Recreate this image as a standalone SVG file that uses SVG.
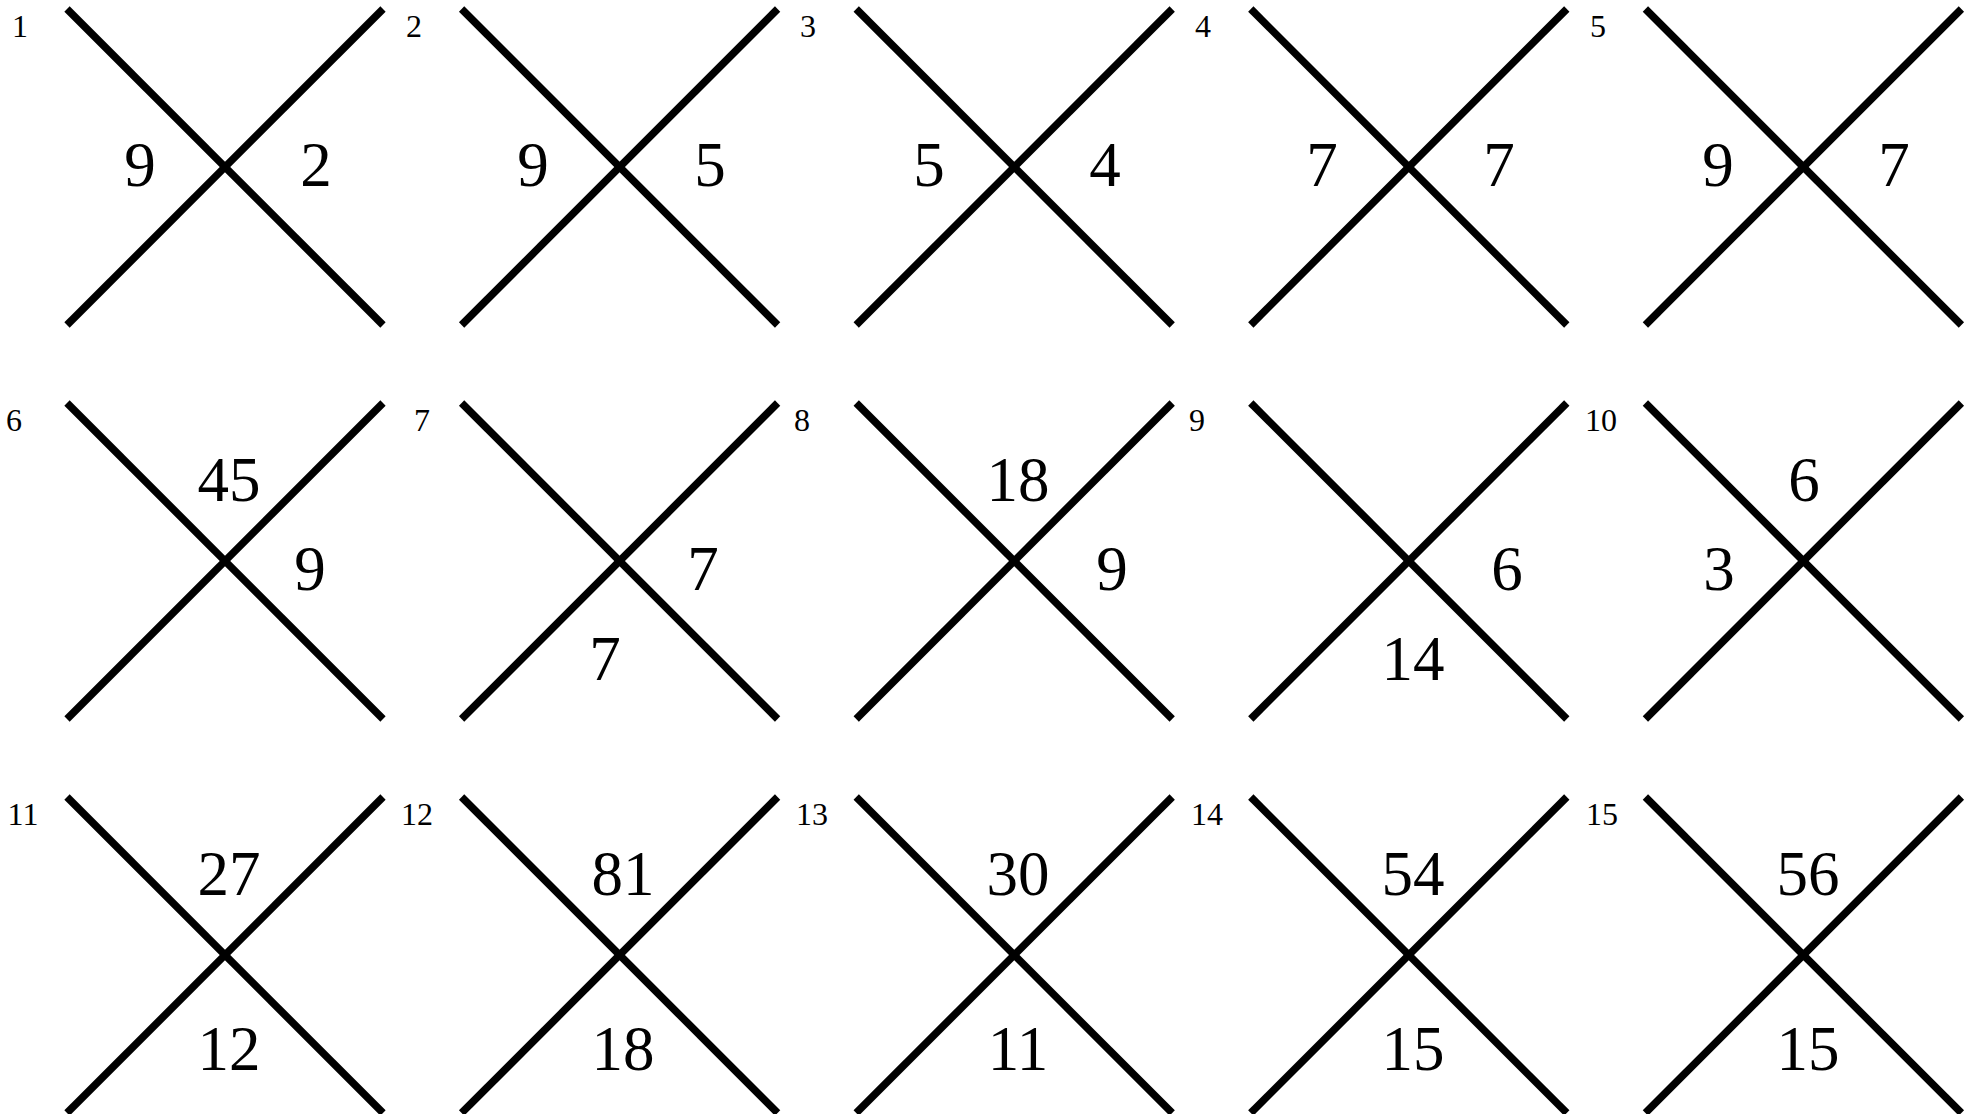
<svg xmlns="http://www.w3.org/2000/svg" width="1973" height="1114" viewBox="0 0 1973 1114">
<style>
.x{stroke:#000;stroke-width:7.5;stroke-linecap:butt;fill:none}
.n{font-family:"Liberation Serif","Times New Roman",serif;font-size:63px;fill:#000;text-anchor:middle}
.l{font-family:"Liberation Serif","Times New Roman",serif;font-size:32px;fill:#000;text-anchor:middle}
</style>
<rect width="1973" height="1114" fill="#fff"/>
<defs>
<g id="xshape">
<line class="x" x1="-158" y1="-158" x2="158" y2="158"/>
<line class="x" x1="158" y1="-158" x2="-158" y2="158"/>
</g>
</defs>
<g id="connectors">
<use href="#xshape" x="225" y="167"/>
<use href="#xshape" x="619.6" y="167"/>
<use href="#xshape" x="1014.2" y="167"/>
<use href="#xshape" x="1408.8" y="167"/>
<use href="#xshape" x="1803.4" y="167"/>
<use href="#xshape" x="225" y="561"/>
<use href="#xshape" x="619.6" y="561"/>
<use href="#xshape" x="1014.2" y="561"/>
<use href="#xshape" x="1408.8" y="561"/>
<use href="#xshape" x="1803.4" y="561"/>
<use href="#xshape" x="225" y="955"/>
<use href="#xshape" x="619.6" y="955"/>
<use href="#xshape" x="1014.2" y="955"/>
<use href="#xshape" x="1408.8" y="955"/>
<use href="#xshape" x="1803.4" y="955"/>
</g>
<g id="panel-1"><text class="l" x="20" y="37">1</text><text class="n" x="140" y="186">9</text><text class="n" x="316" y="186">2</text></g>
<g id="panel-2"><text class="l" x="414" y="37">2</text><text class="n" x="533" y="186">9</text><text class="n" x="710" y="186">5</text></g>
<g id="panel-3"><text class="l" x="808" y="37">3</text><text class="n" x="929" y="186">5</text><text class="n" x="1105" y="186">4</text></g>
<g id="panel-4"><text class="l" x="1203" y="37">4</text><text class="n" x="1322" y="186">7</text><text class="n" x="1499" y="186">7</text></g>
<g id="panel-5"><text class="l" x="1598" y="37">5</text><text class="n" x="1718" y="186">9</text><text class="n" x="1894" y="186">7</text></g>
<g id="panel-6"><text class="l" x="14" y="431">6</text><text class="n" x="229" y="501">45</text><text class="n" x="310" y="590">9</text></g>
<g id="panel-7"><text class="l" x="422" y="431">7</text><text class="n" x="703" y="590">7</text><text class="n" x="605" y="680">7</text></g>
<g id="panel-8"><text class="l" x="802" y="431">8</text><text class="n" x="1018" y="501">18</text><text class="n" x="1112" y="590">9</text></g>
<g id="panel-9"><text class="l" x="1197" y="431">9</text><text class="n" x="1507" y="590">6</text><text class="n" x="1413" y="680">14</text></g>
<g id="panel-10"><text class="l" x="1601" y="431">10</text><text class="n" x="1804" y="501">6</text><text class="n" x="1719" y="590">3</text></g>
<g id="panel-11"><text class="l" x="23" y="825">11</text><text class="n" x="229" y="895">27</text><text class="n" x="229" y="1070">12</text></g>
<g id="panel-12"><text class="l" x="417" y="825">12</text><text class="n" x="623" y="895">81</text><text class="n" x="623" y="1070">18</text></g>
<g id="panel-13"><text class="l" x="812" y="825">13</text><text class="n" x="1018" y="895">30</text><text class="n" x="1018" y="1070">11</text></g>
<g id="panel-14"><text class="l" x="1207" y="825">14</text><text class="n" x="1413" y="895">54</text><text class="n" x="1413" y="1070">15</text></g>
<g id="panel-15"><text class="l" x="1602" y="825">15</text><text class="n" x="1808" y="895">56</text><text class="n" x="1808" y="1070">15</text></g>
</svg>
